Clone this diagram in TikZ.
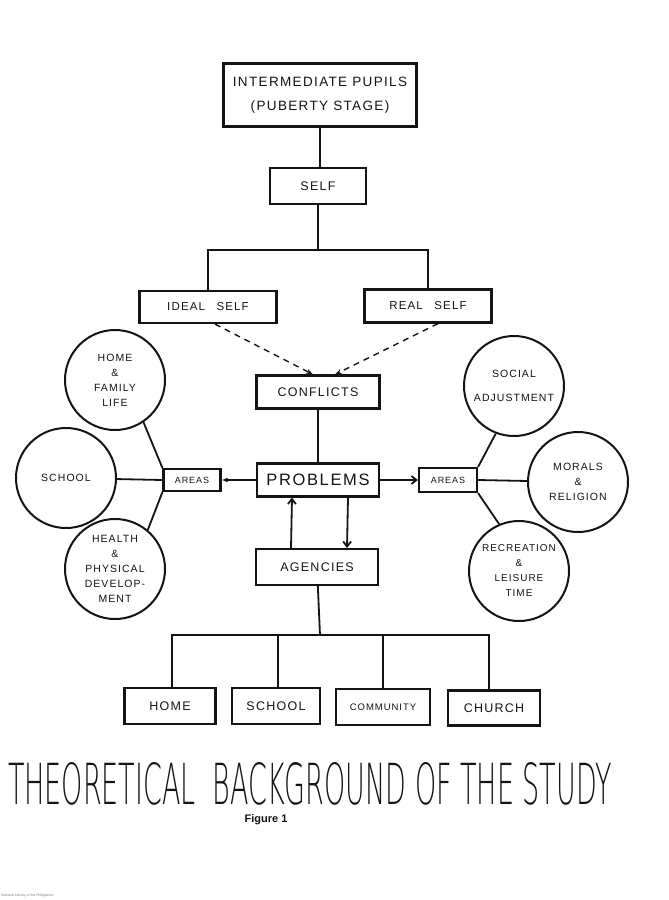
\documentclass[tikz,border=0pt]{standalone}
\usepackage{fontspec}
\setmainfont{Liberation Sans}
\newfontfamily\handfont[LetterSpace=10]{Liberation Sans}
\IfFontExistsTF{DejaVuSans-ExtraLight.ttf}
  {\newfontfamily\titlefont{DejaVuSans-ExtraLight.ttf}}
  {\newfontfamily\titlefont{Liberation Sans}}
\usepackage{tikz}
\usetikzlibrary{arrows.meta,positioning}
\definecolor{inkblack}{RGB}{20,20,20}

\begin{document}
\begin{tikzpicture}[x=1pt, y=-1pt,
  box/.style={draw=inkblack, line width=2.2pt, inner sep=0pt, align=center,
              font=\handfont\fontsize{12.5}{14}\selectfont},
  bubble/.style={circle, draw=inkblack, line width=2pt, inner sep=0pt,
                 minimum size=100pt, align=center,
                 font=\handfont\fontsize{10.5}{15}\selectfont},
  link/.style={draw=inkblack, line width=1.8pt},
  every node/.style={text=inkblack}]
\useasboundingbox (0,0) rectangle (669,900);
\fill[white] (0,0) rectangle (669,900);

% Pupils and self
\node[box, minimum width=193pt, minimum height=63pt,
      font=\handfont\fontsize{13.5}{24}\selectfont] (pupils) at (320,95)
      {INTERMEDIATE PUPILS\\(PUBERTY STAGE)};
\node[box, minimum width=96pt, minimum height=36pt] (self) at (318,186) {SELF};
\draw[link] (pupils.south) -- (pupils.south |- self.north);

% Ideal self / real self
\coordinate (fork) at (318,250);
\node[box, minimum width=137pt, minimum height=32pt,
      font=\handfont\fontsize{11.5}{13}\selectfont] (ideal) at (208,307) {IDEAL\quad SELF};
\node[box, minimum width=127pt, minimum height=33pt,
      font=\handfont\fontsize{11.5}{13}\selectfont] (real) at (428,306) {REAL\quad SELF};
\draw[link] (self) -- (fork);
\draw[link] (ideal.north) |- (fork) -| (real.north);

% Conflicts (dashed)
\node[box, minimum width=123pt, minimum height=33pt] (conflicts) at (318,392) {CONFLICTS};
\draw[link, line width=1.4pt, dash pattern=on 6pt off 5pt, -{Stealth[length=7pt,width=5pt]}]
  ([xshift=7pt]ideal.south) -- ([xshift=-5pt]conflicts.north);
\draw[link, line width=1.4pt, dash pattern=on 6pt off 5pt, -{Stealth[length=7pt,width=5pt]}]
  ([xshift=10pt]real.south) -- ([xshift=17pt]conflicts.north);

% Problems and the two areas
\node[box, minimum width=122pt, minimum height=33pt,
      font=\handfont\fontsize{16.5}{18}\selectfont] (problems) at (318,480) {PROBLEMS};
\draw[link] (conflicts) -- (problems);
\node[box, minimum width=57pt, minimum height=22pt,
      font=\handfont\fontsize{9}{10}\selectfont] (areasL) at (192,480) {AREAS};
\node[box, minimum width=58pt, minimum height=24pt,
      font=\handfont\fontsize{9}{10}\selectfont] (areasR) at (448,480) {AREAS};
\draw[link, -{Latex[length=6pt,width=5pt]}] (problems) -- (areasL);
\draw[link, -{Straight Barb[length=5pt,width=8pt]}] (problems) -- (areasR);

% Agencies
\node[box, minimum width=122pt, minimum height=36pt] (agencies) at (317,567) {AGENCIES};
\draw[link, -{Straight Barb[length=5pt,width=8pt]}]
  ([xshift=-26pt]agencies.north) -- ([xshift=-26pt]problems.south);
\draw[link, -{Straight Barb[length=5pt,width=8pt]}]
  ([xshift=30pt]problems.south) -- ([xshift=30pt]agencies.north);

% Left areas
\node[bubble] (homelife) at (115,380) {HOME\\\&\\FAMILY\\LIFE};
\node[bubble] (schoolarea) at (66,478) {SCHOOL};
\node[bubble] (health) at (115,569) {HEALTH\\\&\\PHYSICAL\\DEVELOP-\\MENT};
\draw[link] (areasL.north west) -- (homelife.-56);
\draw[link] (areasL.west) -- (schoolarea);
\draw[link] (areasL.south west) -- (health.50);

% Right areas
\node[bubble] (social) at (514,386) {SOCIAL\\[9pt]ADJUSTMENT};
\node[bubble] (morals) at (578,482) {MORALS\\\&\\RELIGION};
\node[bubble, font=\handfont\fontsize{10}{15}\selectfont] (recreation) at (519,571)
  {RECREATION\\\&\\LEISURE\\TIME};
\draw[link] (areasR.north east) -- (social.-111);
\draw[link] (areasR.east) -- (morals);
\draw[link] (areasR.south east) -- (recreation.113);

% Agency boxes
\coordinate (bus) at (320,635);
\node[box, minimum width=91pt, minimum height=36pt] (home) at (170,706) {HOME};
\node[box, minimum width=88pt, minimum height=36pt] (school) at (276,706) {SCHOOL};
\node[box, minimum width=94pt, minimum height=36pt,
      font=\handfont\fontsize{9.5}{11}\selectfont] (community) at (383,707) {COMMUNITY};
\node[box, minimum width=92pt, minimum height=35pt] (church) at (494,708) {CHURCH};
\draw[link] (agencies) -- (bus);
\draw[link] ([xshift=2pt]home.north) |- ([xshift=-5pt]church.north |- bus)
  -- ([xshift=-5pt]church.north);
\draw[link] ([xshift=2pt]school.north) -- ([xshift=2pt]school.north |- bus);
\draw[link] (community.north) -- (community.north |- bus);

% Title
\node[inner sep=0pt] (title) at (310,784)
  {\resizebox{604pt}{42pt}{\titlefont\fontsize{60}{62}\selectfont THEORETICAL\ \ BACKGROUND OF THE STUDY}};
\node[inner sep=0pt, font=\bfseries\fontsize{11}{13}\selectfont] (figlabel) at (266,820) {Figure 1};
\node[anchor=south west, inner sep=0pt, text=gray,
      font=\fontsize{3.5}{4}\selectfont] (source) at (1,897) {National Library of the Philippines};
\end{tikzpicture}
\end{document}
